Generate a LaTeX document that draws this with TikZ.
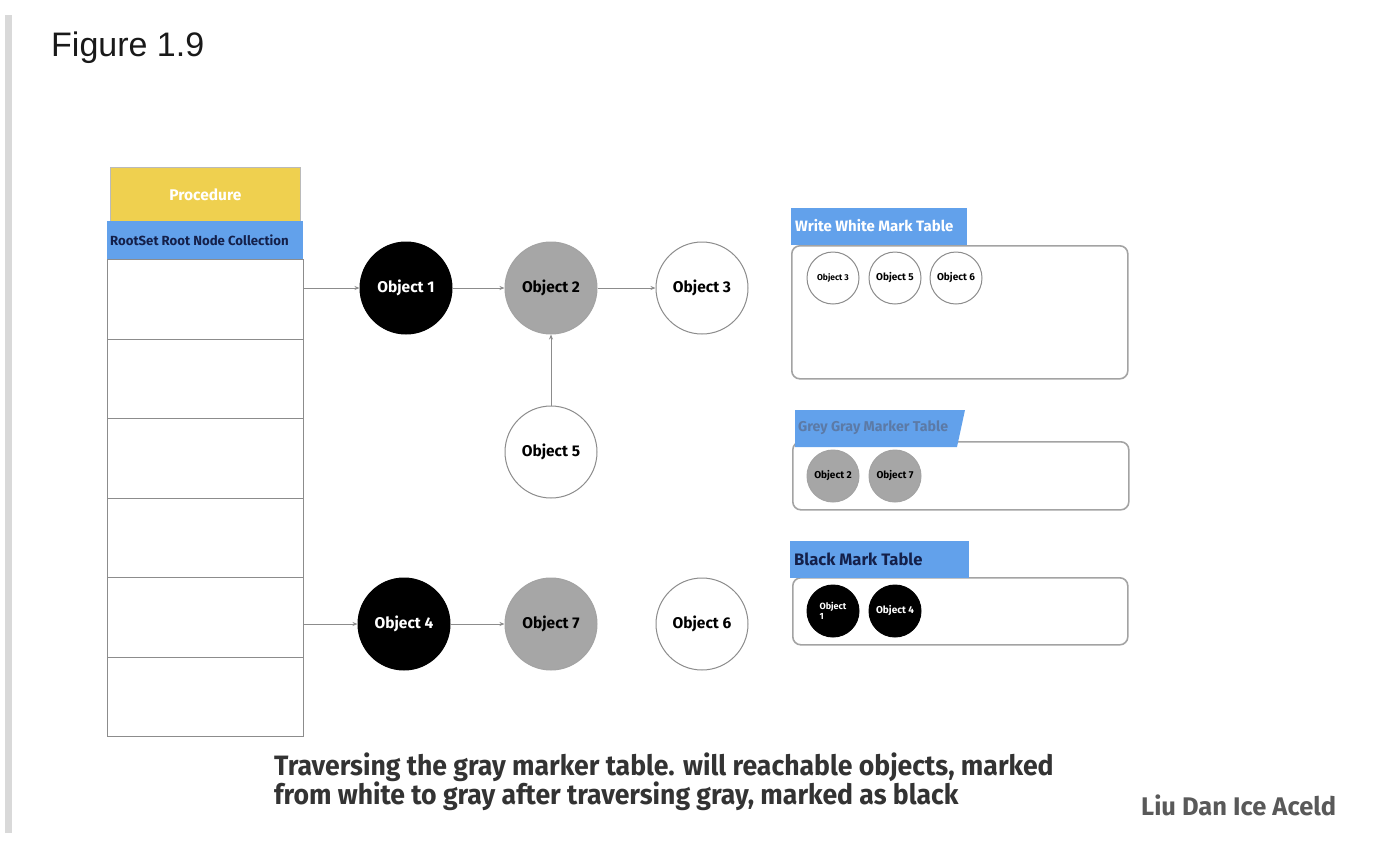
\documentclass[tikz,border=0pt]{standalone}
\usepackage{fontspec}
\setmainfont{Fira Sans}
\newfontfamily\figfont{Liberation Sans}
\usetikzlibrary{arrows.meta}
\definecolor{hdrblue}{HTML}{62A1EB}
\definecolor{procyellow}{HTML}{EFD04F}
\definecolor{objgray}{HTML}{A6A6A6}
\definecolor{linegray}{HTML}{8C8C8C}
\definecolor{navy}{HTML}{14204A}
\definecolor{fadeblue}{HTML}{5C7AA6}
\definecolor{captext}{HTML}{333333}
\tikzset{
  bigobj/.style={circle, minimum size=92pt, inner sep=0pt, font=\fontsize{15.5}{17}\selectfont\bfseries, line width=1pt},
  smallobj/.style={circle, minimum size=52pt, inner sep=0pt, font=\fontsize{10}{10}\selectfont\bfseries, line width=1pt},
  blackobj/.style={fill=black, draw=black, text=white},
  grayobj/.style={fill=objgray, draw=linegray!80, text=black},
  whiteobj/.style={fill=white, draw=linegray, text=black},
  rowbox/.style={rectangle, draw=linegray, line width=0.8pt, minimum width=196pt, minimum height=79.5pt, anchor=north west, inner sep=0pt},
  tablebox/.style={rectangle, rounded corners=8pt, draw=linegray!80, line width=1.6pt, anchor=north west, inner sep=0pt},
  header/.style={rectangle, fill=hdrblue, anchor=north west, inner sep=0pt, font=\bfseries},
  arr/.style={draw=linegray, line width=1pt, -{Stealth[length=5pt,width=4pt]}},
}
\begin{document}
\begin{tikzpicture}[x=1pt,y=-1pt]
\useasboundingbox (0,0) rectangle (1398,844);
% left page bar
\fill[black!15] (5,15) rectangle (12,833);
\node[anchor=base west, inner sep=0pt, font=\figfont\fontsize{34}{40}\selectfont, text=black!90] (fig) at (51,56) {Figure 1.9};

% procedure and root set
\node[rectangle, fill=procyellow, draw=linegray!60, line width=0.8pt, anchor=north west, minimum width=190pt, minimum height=54pt, inner sep=0pt,
  font=\fontsize{15.5}{17}\selectfont\bfseries, text=white] (proc) at (110,167) {Procedure};
\node[header, minimum width=196pt, minimum height=38pt] (root) at (107,221) {};
\node[anchor=west, inner sep=0pt, font=\fontsize{13.2}{15}\selectfont\bfseries, text=navy] (rootlbl) at (110,240) {RootSet Root Node Collection};
\node[rowbox] (row1) at (107,259) {};
\node[rowbox] (row2) at (107,338.5) {};
\node[rowbox] (row3) at (107,418) {};
\node[rowbox] (row4) at (107,497.5) {};
\node[rowbox] (row5) at (107,577) {};
\node[rowbox] (row6) at (107,656.5) {};

% objects
\node[bigobj, blackobj] (o1) at (406,288) {Object 1};
\node[bigobj, grayobj] (o2) at (551,288) {Object 2};
\node[bigobj, whiteobj] (o3) at (702,288) {Object 3};
\node[bigobj, whiteobj] (o5) at (551,452) {Object 5};
\node[bigobj, blackobj] (o4) at (404,624) {Object 4};
\node[bigobj, grayobj] (o7) at (551,624) {Object 7};
\node[bigobj, whiteobj] (o6) at (702,624) {Object 6};

\draw[arr] (row1.east |- o1.west) -- (o1.west);
\draw[arr] (o1) -- (o2);
\draw[arr] (o2) -- (o3);
\draw[arr] (o5) -- (o2);
\draw[arr] (row5.east |- o4.west) -- (o4.west);
\draw[arr] (o4) -- (o7);

% white mark table
\node[tablebox, minimum width=336pt, minimum height=133pt] (wtab) at (791,245) {};
\node[header, minimum width=176pt, minimum height=37pt] (whdr) at (791,208) {};
\node[anchor=west, inner sep=0pt, font=\fontsize{15}{17}\selectfont\bfseries, text=white] (whdrlbl) at (795,226) {Write White Mark Table};
\node[smallobj, whiteobj, font=\fontsize{8.5}{9}\selectfont\bfseries] (w3) at (833,278) {Object 3};
\node[smallobj, whiteobj] (w5) at (895,278) {Object 5};
\node[smallobj, whiteobj] (w6) at (956,278) {Object 6};

% gray marker table
\node[tablebox, minimum width=336pt, minimum height=68pt] (gtab) at (792,441) {};
\fill[hdrblue] (795,410) -- (965,410) -- (957,447) -- (795,447) -- cycle;
\node[anchor=west, inner sep=0pt, font=\fontsize{14.2}{16}\selectfont\bfseries, text=fadeblue] (ghdrlbl) at (798,428) {Grey Gray Marker Table};
\node[smallobj, grayobj] (g2) at (833,476) {Object 2};
\node[smallobj, grayobj] (g7) at (895,476) {Object 7};

% black mark table
\node[tablebox, minimum width=335pt, minimum height=67pt] (btab) at (792,577) {};
\node[header, minimum width=179pt, minimum height=37pt] (bhdr) at (790,541) {};
\node[anchor=west, inner sep=0pt, font=\fontsize{16.6}{18}\selectfont\bfseries, text=navy] (bhdrlbl) at (794,559) {Black Mark Table};
\node[smallobj, blackobj, align=left, font=\fontsize{9}{10}\selectfont\bfseries] (b1) at (833,611) {Object\\1};
\node[smallobj, blackobj] (b4) at (895,611) {Object 4};

% caption
\node[anchor=base west, inner sep=0pt, font=\fontsize{28}{30}\selectfont\bfseries, text=captext] (cap1) at (274,775) {\scalebox{0.95}[1]{Traversing the gray marker table. will reachable objects, marked}};
\node[anchor=base west, inner sep=0pt, font=\fontsize{28}{30}\selectfont\bfseries, text=captext] (cap2) at (274,804) {\scalebox{0.95}[1]{from white to gray after traversing gray, marked as black}};
\node[anchor=base west, inner sep=0pt, font=\fontsize{25.5}{28}\selectfont\bfseries, text=black!65] (auth) at (1141,815) {Liu Dan Ice Aceld};
\end{tikzpicture}
\end{document}
